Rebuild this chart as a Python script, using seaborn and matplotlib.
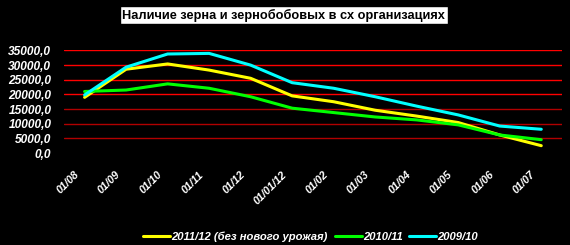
import matplotlib
matplotlib.use("Agg")
import matplotlib.pyplot as plt
import matplotlib.transforms as mtransforms
import seaborn as sns
import pandas as pd

months = ["01/08", "01/09", "01/10", "01/11", "01/12", "01/01/12",
          "01/02", "01/03", "01/04", "01/05", "01/06", "01/07"]
s_2011 = [19000, 28600, 30400, 28300, 25500, 19500, 17500, 14600, 12600, 10400, 6150, 2500]
s_2010 = [21000, 21500, 23600, 22100, 19200, 15300, 13800, 12300, 11300, 9600, 6150, 4550]
s_2009 = [19800, 29300, 33800, 34000, 30000, 24000, 22100, 19200, 16000, 13000, 9200, 8100]
series_names = ["2011/12 (без нового урожая)", "2010/11", "2009/10"]
colors = ["#ffff00", "#00ff00", "#00ffff"]
yticks = [0, 5000, 10000, 15000, 20000, 25000, 30000, 35000]

rows = []
for name, vals in zip(series_names, [s_2011, s_2010, s_2009]):
    for i, (m, v) in enumerate(zip(months, vals)):
        rows.append({"idx": i, "month": m, "value": v, "series": name})
df = pd.DataFrame(rows)

sns.set_theme(style="dark")
plt.rcParams["font.family"] = ["Liberation Sans", "DejaVu Sans"]

fig = plt.figure(figsize=(5.7, 2.45), dpi=100, facecolor="black")
ax = fig.add_axes([0.112, 0.3755, 0.874, 0.4185])
ax.set_facecolor("black")

sns.lineplot(data=df, x="idx", y="value", hue="series", hue_order=series_names,
             palette=colors, linewidth=2.2, ax=ax, legend=False)

ax.set_xlim(-0.5, 11.5)
ax.set_ylim(0, 35000)
ax.set_yticks(yticks)
ax.set_yticklabels([f"{v:.1f}".replace(".", ",") for v in yticks],
                   color="white", fontsize=8.6, fontweight="bold", fontstyle="italic")
ax.set_xticks(range(len(months)))
ax.set_xticklabels(months, rotation=45, ha="right", rotation_mode="anchor",
                   color="white", fontsize=7.8, fontweight="bold", fontstyle="italic")
ax.tick_params(axis="y", length=0, pad=9)
ax.tick_params(axis="x", length=0, pad=12)
offset = mtransforms.ScaledTranslation(-11 / 100, 0, fig.dpi_scale_trans)
for lbl in ax.get_xticklabels():
    lbl.set_transform(lbl.get_transform() + offset)
ax.set_xlabel("")
ax.set_ylabel("")
for sp in ax.spines.values():
    sp.set_visible(False)

ax.grid(False)
ax.yaxis.grid(True, linewidth=1.0)
ax.xaxis.grid(False)
grid_cols = {0: "black", 5000: "#b00000", 10000: "#b00000", 15000: "#b00000",
             20000: "#ff0000", 25000: "#ff0000", 30000: "#ff0000", 35000: "#ff0000"}
for gl, v in zip(ax.get_ygridlines(), yticks):
    gl.set_color(grid_cols[v])
ax.set_axisbelow(True)

fig.text(0.498, 0.938, "Наличие зерна и зернобобовых в сх организациях",
         ha="center", va="center", fontsize=9.2, fontweight="bold", color="black",
         bbox=dict(facecolor="white", edgecolor="black", boxstyle="square,pad=0.2"))

from matplotlib.lines import Line2D
handles = [Line2D([], [], color=c, lw=2.2) for c in colors]
leg = fig.legend(handles, series_names, loc="center", bbox_to_anchor=(0.545, 0.033),
                 ncol=3, frameon=False, handlelength=2.4,
                 handletextpad=0.1, columnspacing=0.6,
                 prop=dict(weight="bold", style="italic", size=8.1))
for t in leg.get_texts():
    t.set_color("white")

fig.savefig("out.png", dpi=100, facecolor="black")
